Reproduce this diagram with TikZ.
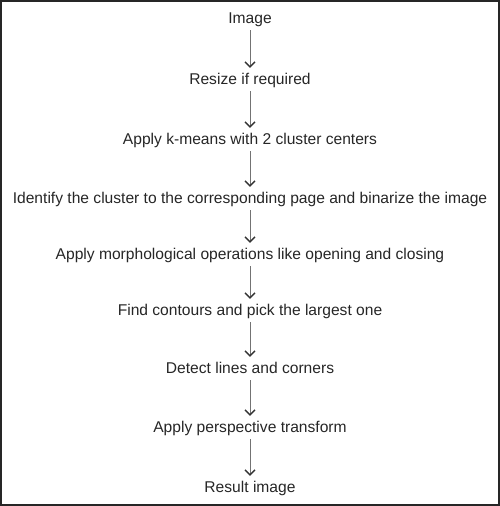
\documentclass[tikz,border=0pt]{standalone}
\usepackage{fontspec}
\setmainfont{Liberation Sans}
\usetikzlibrary{arrows.meta}
\begin{document}
\begin{tikzpicture}[x=1pt,y=1pt,
  lbl/.style={anchor=base,inner sep=0pt,text height=11pt,text depth=0pt,font=\fontsize{15.6}{18}\selectfont,text=black!85},
  flow/.style={draw=black!55,line width=0.8pt,shorten <=6pt,shorten >=6pt,
    -{Straight Barb[length=5pt,width=10pt,line width=1.4pt,color=black!80]}}]
\useasboundingbox (0,0) rectangle (500,506);
\draw[line width=2pt,draw=black!85] (1,1) rectangle (499,505);
\node[lbl] (n1) at (250,506-24) {Image};
\node[lbl] (n2) at (250,506-85) {Resize if required};
\node[lbl] (n3) at (250,506-145) {Apply k-means with 2 cluster centers};
\node[lbl] (n4) at (250,506-204) {Identify the cluster to the corresponding page and binarize the image};
\node[lbl] (n5) at (250,506-260) {Apply morphological operations like opening and closing};
\node[lbl] (n6) at (250,506-316) {Find contours and pick the largest one};
\node[lbl] (n7) at (250,506-374) {Detect lines and corners};
\node[lbl] (n8) at (250,506-433) {Apply perspective transform};
\node[lbl] (n9) at (250,506-493) {Result image};
\foreach \a/\b in {n1/n2,n2/n3,n3/n4,n4/n5,n5/n6,n6/n7,n7/n8,n8/n9}
  \draw[flow] (\a.south) -- (\b.north);
\end{tikzpicture}
\end{document}
